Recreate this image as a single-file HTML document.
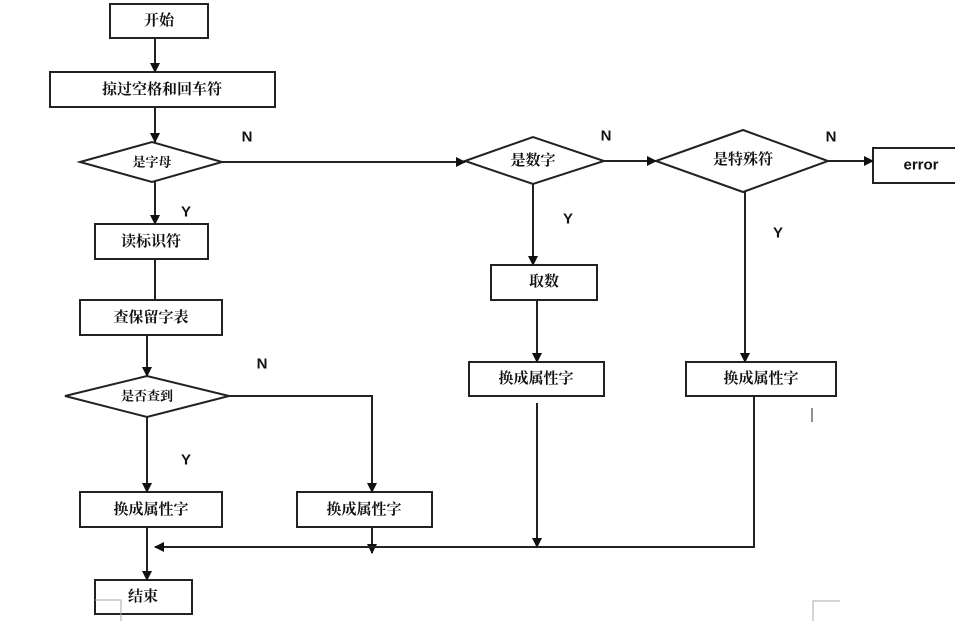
<!DOCTYPE html>
<html><head><meta charset="utf-8"><style>
html,body{margin:0;padding:0;background:#fff;}
svg{display:block;}
.t{font-family:"Liberation Serif","Noto Serif CJK SC","Noto Sans CJK SC",serif;font-size:15px;fill:#111;font-weight:bold;text-anchor:middle;dominant-baseline:central;}
.s{font-size:13px;}
.l{font-family:"Liberation Sans",sans-serif;font-size:15px;font-weight:bold;fill:#111;text-anchor:middle;dominant-baseline:central;}
</style></head><body>
<svg width="955" height="621" viewBox="0 0 955 621" xmlns="http://www.w3.org/2000/svg">
<defs><marker id="a" markerWidth="10" markerHeight="10" refX="9" refY="5" orient="auto" markerUnits="userSpaceOnUse"><path d="M0,0 L10,5 L0,10 z" fill="#111"/></marker></defs>
<g fill="#fff" stroke="#222" stroke-width="2">
<rect x="110" y="4" width="98" height="34"/>
<rect x="50" y="72" width="225" height="35"/>
<polygon points="80,162 152,142 222,162 152,182"/>
<rect x="95" y="224" width="113" height="35"/>
<rect x="80" y="300" width="142" height="35"/>
<polygon points="65,396 147,376 229,396 147,417"/>
<rect x="80" y="492" width="142" height="35"/>
<rect x="297" y="492" width="135" height="35"/>
<rect x="95" y="580" width="97" height="34"/>
<polygon points="465,161 533,137 604,161 533,184"/>
<polygon points="656,161 743,130 828,161 743,192"/>
<rect x="873" y="148" width="90" height="35"/>
<rect x="491" y="265" width="106" height="35"/>
<rect x="469" y="362" width="135" height="34"/>
<rect x="686" y="362" width="150" height="34"/>
</g>
<g stroke="#222" stroke-width="2" fill="none">
<line x1="155" y1="38" x2="155" y2="72" marker-end="url(#a)"/>
<line x1="155" y1="107" x2="155" y2="142" marker-end="url(#a)"/>
<line x1="222" y1="162" x2="465" y2="162" marker-end="url(#a)"/>
<line x1="604" y1="161" x2="656" y2="161" marker-end="url(#a)"/>
<line x1="828" y1="161" x2="873" y2="161" marker-end="url(#a)"/>
<line x1="155" y1="182" x2="155" y2="224" marker-end="url(#a)"/>
<line x1="155" y1="259" x2="155" y2="300"/>
<line x1="147" y1="335" x2="147" y2="376" marker-end="url(#a)"/>
<line x1="147" y1="417" x2="147" y2="492" marker-end="url(#a)"/>
<polyline points="229,396 372,396 372,492" marker-end="url(#a)"/>
<line x1="147" y1="527" x2="147" y2="580" marker-end="url(#a)"/>
<line x1="372" y1="527" x2="372" y2="553" marker-end="url(#a)"/>
<polyline points="754,396 754,547 155,547" marker-end="url(#a)"/>
<line x1="533" y1="184" x2="533" y2="265" marker-end="url(#a)"/>
<line x1="537" y1="300" x2="537" y2="362" marker-end="url(#a)"/>
<line x1="537" y1="403" x2="537" y2="547" marker-end="url(#a)"/>
<line x1="745" y1="192" x2="745" y2="362" marker-end="url(#a)"/>
<line x1="812" y1="408" x2="812" y2="422" stroke-width="1"/>
</g>
<g stroke="#aaa" stroke-width="1" fill="none">
<polyline points="95,600 121,600 121,621"/>
<polyline points="840,601 813,601 813,621"/>
</g>
<text class="t" x="159" y="21">开始</text>
<text class="t" x="162" y="90">掠过空格和回车符</text>
<text class="t s" x="152" y="162">是字母</text>
<text class="t" x="151" y="242">读标识符</text>
<text class="t" x="151" y="318">查保留字表</text>
<text class="t s" x="147" y="396">是否查到</text>
<text class="t" x="151" y="510">换成属性字</text>
<text class="t" x="364" y="510">换成属性字</text>
<text class="t" x="143" y="597">结束</text>
<text class="t" x="533" y="161">是数字</text>
<text class="t" x="743" y="160">是特殊符</text>
<text class="l" x="921" y="165">error</text>
<text class="t" x="544" y="282">取数</text>
<text class="t" x="536" y="379">换成属性字</text>
<text class="t" x="761" y="379">换成属性字</text>
<text class="l" x="247" y="137">N</text>
<text class="l" x="186" y="212">Y</text>
<text class="l" x="606" y="136">N</text>
<text class="l" x="831" y="137">N</text>
<text class="l" x="568" y="219">Y</text>
<text class="l" x="778" y="233">Y</text>
<text class="l" x="262" y="364">N</text>
<text class="l" x="186" y="460">Y</text>
</svg>
</body></html>
